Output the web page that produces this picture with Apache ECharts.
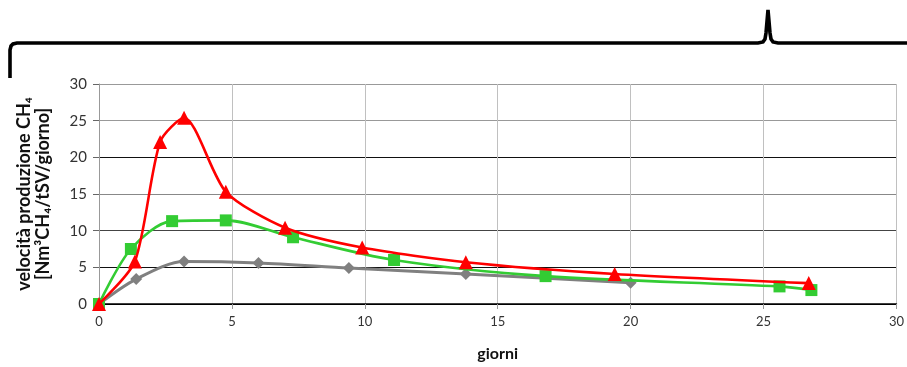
<!DOCTYPE html>
<html><head><meta charset="utf-8">
<script src="https://cdn.jsdelivr.net/npm/echarts@6/dist/echarts.min.js"></script>
<style>html,body{margin:0;padding:0;background:#fff}#c{width:907px;height:367px}</style>
</head><body><div id="c"></div>
<script>
const redData = [[0,0],[1.35,5.8],[2.3,22.1],[3.2,25.4],[4.77,15.3],[7.0,10.4],[9.9,7.7],[13.8,5.7],[19.4,4.1],[26.7,2.85]];
const greenData = [[0,0],[1.2,7.5],[2.75,11.3],[4.77,11.4],[7.3,9.1],[11.1,6.0],[16.8,3.8],[25.6,2.4],[26.8,1.9]];
const grayData = [[0,0],[1.4,3.4],[3.2,5.8],[6.0,5.6],[9.4,4.9],[13.8,4.1],[20.0,2.9]];
const xTicks = [0,5,10,15,20,25,30];
const yTicks = [0,5,10,15,20,25,30];
const yName = 'velocità produzione CH₄\n[Nm³CH₄/tSV/giorno]';
const xName = 'giorni';

const chart = echarts.init(document.getElementById('c'));
chart.setOption({
  animation:false,
  grid:{left:99,right:10,top:84,bottom:62},
  xAxis:{type:'value',min:xTicks[0],max:xTicks[xTicks.length-1],interval:5,
    name:xName,nameLocation:'middle',nameGap:42,
    nameTextStyle:{fontFamily:'Lato',fontWeight:'bold',fontSize:16,color:'#111'},
    axisLine:{lineStyle:{color:'#000',width:1.5}},
    axisTick:{show:true,length:5,lineStyle:{color:'#999'}},
    axisLabel:{fontFamily:'Lato',fontSize:13,color:'#333',margin:11},
    splitLine:{show:true,lineStyle:{color:'#c0c0c0',width:1}}},
  yAxis:{type:'value',min:yTicks[0],max:yTicks[yTicks.length-1],interval:5,
    name:yName,nameLocation:'middle',nameGap:46,
    nameTextStyle:{fontFamily:'Lato',fontWeight:'bold',fontSize:18,color:'#111',lineHeight:19},
    axisLine:{show:true,lineStyle:{color:'#999',width:1}},
    axisTick:{show:true,length:6,lineStyle:{color:'#666'}},
    axisLabel:{fontFamily:'Lato',fontSize:15,color:'#333',margin:12},
    splitLine:{show:true,lineStyle:{color:['#000','#111','#444','#888','#111','#999','#999'],width:1.2}}},
  graphic:[{type:'polyline',shape:{points:[[10,78],[10,50],[11,46],[13,44],[17,43],[758,43],[763,42],[765,39],[766,33],[768,10],[770,33],[771,39],[773,42],[778,43],[910,43]]},
    style:{stroke:'#000',lineWidth:3.6,fill:null}}],
  series:[
    {type:'line',data:grayData,smooth:0.3,symbol:'diamond',symbolSize:12,
      lineStyle:{color:'#808080',width:3},itemStyle:{color:'#808080'},z:2},
    {type:'line',data:greenData,smooth:0.3,symbol:'rect',symbolSize:12,
      lineStyle:{color:'#33cc33',width:2.6},itemStyle:{color:'#33cc33'},z:3},
    {type:'line',data:redData,smooth:0.25,symbol:'triangle',symbolSize:14,
      lineStyle:{color:'#ff0000',width:2.6},itemStyle:{color:'#ff0000'},z:4}
  ]
});
</script></body></html>
